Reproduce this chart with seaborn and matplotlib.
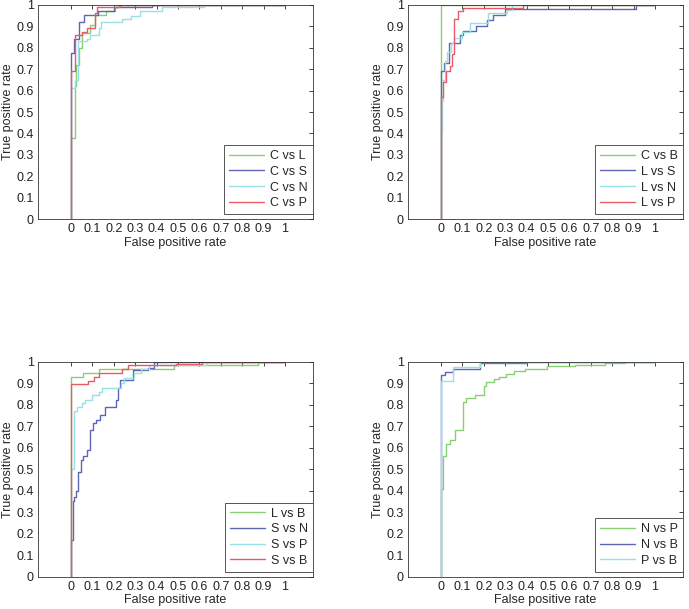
import seaborn as sns
import matplotlib.pyplot as plt
import pandas as pd

# ROC step vertices (fpr, tpr), drawn with steps-post
# Panel 1
c_vs_l_fpr = [0, 0, 0.018, 0.025, 0.035, 0.05, 0.09, 0.11, 0.165, 0.205, 0.22, 1]
c_vs_l_tpr = [0, 0.38, 0.62, 0.72, 0.80, 0.87, 0.906, 0.953, 0.97, 0.99, 1, 1]
c_vs_s_fpr = [0, 0, 0.016, 0.036, 0.06, 0.126, 0.2, 0.378, 1]
c_vs_s_tpr = [0, 0.775, 0.84, 0.92, 0.953, 0.97, 0.99, 1, 1]
c_vs_n_fpr = [0, 0, 0.02, 0.033, 0.075, 0.09, 0.13, 0.14, 0.24, 0.28, 0.32, 0.425, 0.62, 1]
c_vs_n_tpr = [0, 0.61, 0.65, 0.83, 0.84, 0.86, 0.89, 0.92, 0.935, 0.95, 0.97, 0.99, 1, 1]
c_vs_p_fpr = [0, 0, 0.017, 0.05, 0.075, 0.11, 0.12, 0.23, 1]
c_vs_p_tpr = [0, 0.69, 0.86, 0.872, 0.89, 0.96, 0.99, 1, 1]

# Panel 2
c_vs_b_fpr = [0, 0, 1]
c_vs_b_tpr = [0, 1, 1]
l_vs_s_fpr = [0, 0, 0.016, 0.037, 0.089, 0.104, 0.164, 0.216, 0.242, 0.30, 0.91, 1]
l_vs_s_tpr = [0, 0.69, 0.73, 0.82, 0.86, 0.88, 0.90, 0.93, 0.953, 0.982, 1, 1]
l_vs_n_fpr = [0, 0, 0.005, 0.01, 0.02, 0.03, 0.045, 0.06, 0.097, 0.135, 0.22, 0.31, 0.33, 1]
l_vs_n_tpr = [0, 0.40, 0.55, 0.65, 0.74, 0.78, 0.82, 0.845, 0.875, 0.915, 0.96, 0.975, 1, 1]
l_vs_p_fpr = [0, 0, 0.011, 0.023, 0.04, 0.053, 0.062, 0.081, 0.104, 0.383, 1]
l_vs_p_tpr = [0, 0.57, 0.64, 0.69, 0.715, 0.77, 0.933, 0.97, 0.985, 1, 1]

# Panel 3
l_vs_b_fpr = [0, 0, 0.055, 0.132, 0.48, 0.872, 1]
l_vs_b_tpr = [0, 0.929, 0.947, 0.966, 0.986, 1, 1]
s_vs_n_fpr = [0, 0, 0.008, 0.015, 0.025, 0.034, 0.045, 0.055, 0.073, 0.089, 0.104, 0.117,
              0.136, 0.159, 0.21, 0.221, 0.229, 0.291, 0.361, 0.389, 1]
s_vs_n_tpr = [0, 0.17, 0.35, 0.37, 0.40, 0.485, 0.544, 0.56, 0.59, 0.684, 0.715, 0.73,
              0.753, 0.789, 0.823, 0.878, 0.913, 0.963, 0.972, 1, 1]
s_vs_p_fpr = [0, 0, 0.016, 0.028, 0.051, 0.067, 0.098, 0.132, 0.145, 0.235, 0.246, 0.293,
              0.329, 0.366, 0.634, 1]
s_vs_p_tpr = [0, 0.50, 0.769, 0.788, 0.808, 0.822, 0.843, 0.859, 0.878, 0.90, 0.924, 0.947,
              0.966, 0.983, 1, 1]
s_vs_b_fpr = [0, 0, 0.08, 0.109, 0.132, 0.238, 0.266, 0.49, 0.61, 1]
s_vs_b_tpr = [0, 0.896, 0.912, 0.929, 0.947, 0.967, 0.983, 0.99, 1, 1]

# Panel 4
n_vs_p_fpr = [0, 0, 0.011, 0.023, 0.044, 0.067, 0.103, 0.118, 0.16, 0.199, 0.212, 0.246,
              0.27, 0.304, 0.34, 0.394, 0.495, 0.628, 0.768, 0.861, 1]
n_vs_p_tpr = [0, 0.41, 0.56, 0.617, 0.637, 0.684, 0.815, 0.831, 0.847, 0.885, 0.908, 0.921,
              0.93, 0.944, 0.958, 0.965, 0.978, 0.986, 0.994, 1, 1]
n_vs_b_fpr = [0, 0, 0.02, 0.055, 0.18, 0.40, 1]
n_vs_b_tpr = [0, 0.94, 0.95, 0.968, 0.993, 1, 1]
p_vs_b_fpr = [0, 0, 0.055, 0.18, 1]
p_vs_b_tpr = [0, 0.91, 0.975, 1, 1]

tick_values = [0, 0.1, 0.2, 0.3, 0.4, 0.5, 0.6, 0.7, 0.8, 0.9, 1]
tick_labels = ['0', '0.1', '0.2', '0.3', '0.4', '0.5', '0.6', '0.7', '0.8', '0.9', '1']

green, blue, cyan, red = '#86d070', '#5c66b4', '#96e0e6', '#ea5a66'

panels = [
    [('C vs L', c_vs_l_fpr, c_vs_l_tpr, green), ('C vs S', c_vs_s_fpr, c_vs_s_tpr, blue),
     ('C vs N', c_vs_n_fpr, c_vs_n_tpr, cyan), ('C vs P', c_vs_p_fpr, c_vs_p_tpr, red)],
    [('C vs B', c_vs_b_fpr, c_vs_b_tpr, green), ('L vs S', l_vs_s_fpr, l_vs_s_tpr, blue),
     ('L vs N', l_vs_n_fpr, l_vs_n_tpr, cyan), ('L vs P', l_vs_p_fpr, l_vs_p_tpr, red)],
    [('L vs B', l_vs_b_fpr, l_vs_b_tpr, green), ('S vs N', s_vs_n_fpr, s_vs_n_tpr, blue),
     ('S vs P', s_vs_p_fpr, s_vs_p_tpr, cyan), ('S vs B', s_vs_b_fpr, s_vs_b_tpr, red)],
    [('N vs P', n_vs_p_fpr, n_vs_p_tpr, green), ('N vs B', n_vs_b_fpr, n_vs_b_tpr, blue),
     ('P vs B', p_vs_b_fpr, p_vs_b_tpr, cyan)],
]

sns.set_theme(style='white')
plt.rcParams['font.family'] = ['Liberation Sans', 'DejaVu Sans']

fig = plt.figure(figsize=(6.89, 6.09), dpi=100)
# axes rectangles in figure fractions
rects = [(0.055, 0.640, 0.399, 0.352), (0.592, 0.640, 0.399, 0.352),
         (0.055, 0.053, 0.399, 0.353), (0.592, 0.053, 0.399, 0.353)]

for rect, curves in zip(rects, panels):
    ax = fig.add_axes(rect)
    for label, fpr, tpr, color in curves:
        df = pd.DataFrame({'fpr': fpr, 'tpr': tpr})
        sns.lineplot(data=df, x='fpr', y='tpr', ax=ax, sort=False, estimator=None,
                     drawstyle='steps-post', color=color, linewidth=1.0, label=label)
    ax.set_xlim(-0.155, 1.13)
    ax.set_ylim(0, 1)
    ax.set_xticks(tick_values)
    ax.set_xticklabels(tick_labels)
    ax.set_yticks(tick_values)
    ax.set_yticklabels(tick_labels)
    ax.tick_params(direction='in', length=3, width=0.6, top=True, right=True,
                   labelsize=9, pad=3, colors='#222222')
    ax.set_xlabel('False positive rate', fontsize=9, labelpad=1)
    ax.set_ylabel('True positive rate', fontsize=9, labelpad=2)
    for spine in ax.spines.values():
        spine.set_color('#333333')
        spine.set_linewidth(0.6)
    leg = ax.legend(loc='lower right', bbox_to_anchor=(1.0, 0.023), borderaxespad=0,
                    fancybox=False, edgecolor='#555555', framealpha=1, fontsize=9,
                    handlelength=2.8, labelspacing=0.3, borderpad=0.4, handletextpad=0.5)
    leg.get_frame().set_linewidth(0.7)

plt.savefig('out.png', dpi=100)
